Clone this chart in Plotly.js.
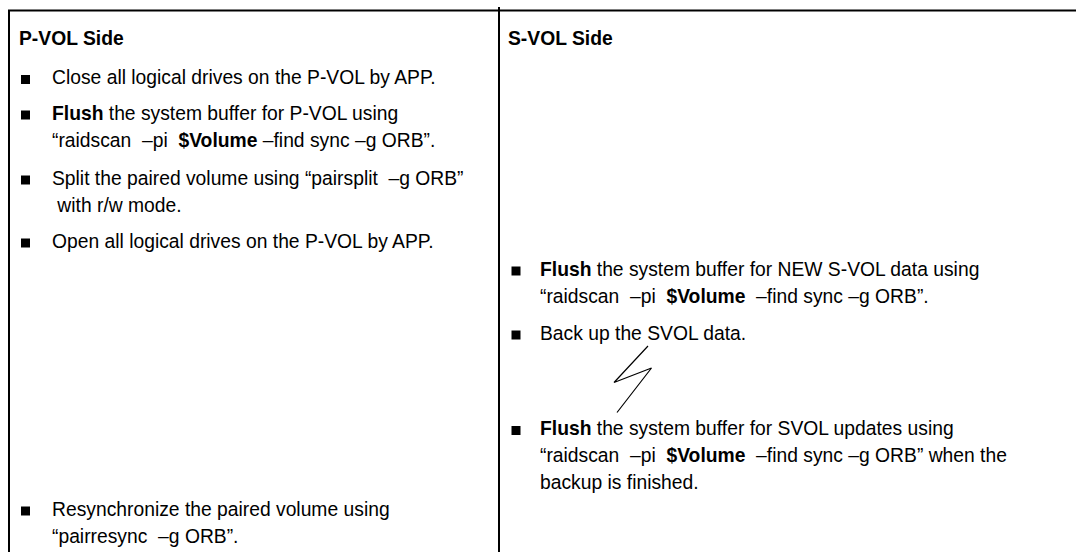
<!DOCTYPE html>
<html>
<head>
<meta charset="utf-8">
<script src="https://cdn.plot.ly/plotly-3.0.1.min.js"></script>
<style>html,body{margin:0;padding:0;background:#fff;}</style>
</head>
<body>
<div id="chart" style="width:1076px;height:552px;"></div>
<script>
// ---- content ----
var NB = '\u00a0';
var columnTitles = ['P-VOL Side', 'S-VOL Side'];

var pvolItems = [
  ['Close all logical drives on the P-VOL by APP.'],
  ['<b>Flush</b> the system buffer for P-VOL using',
   '\u201craidscan' + NB + NB + '\u2013pi' + NB + NB + '<b>$Volume</b> \u2013find sync \u2013g ORB\u201d.'],
  ['Split the paired volume using \u201cpairsplit' + NB + NB + '\u2013g ORB\u201d',
   NB + 'with r/w mode.'],
  ['Open all logical drives on the P-VOL by APP.'],
  ['Resynchronize the paired volume using',
   '\u201cpairresync' + NB + NB + '\u2013g ORB\u201d.']
];
var pvolRows = [77.5, 113, 178, 241, 509];

var svolItems = [
  ['<b>Flush</b> the system buffer for NEW S-VOL data using',
   '\u201craidscan' + NB + NB + '\u2013pi' + NB + NB + '<b>$Volume</b>' + NB + NB + '\u2013find sync \u2013g ORB\u201d.'],
  ['Back up the SVOL data.'],
  ['<b>Flush</b> the system buffer for SVOL updates using',
   '\u201craidscan' + NB + NB + '\u2013pi' + NB + NB + '<b>$Volume</b>' + NB + NB + '\u2013find sync \u2013g ORB\u201d when the',
   'backup is finished.']
];
var svolRows = [269, 333, 428.5];

// lightning (break) symbol
var boltX = [648, 614, 651.5, 617];
var boltY = [346, 382.5, 368, 412.5];

// ---- layout constants ----
var W = 1076, H = 552;
var FONT = 'Liberation Sans, Arial, sans-serif';
var FS = 19.3;
var LINE = 27;
var colTextX = [50, 538];
var colBulletX = [25.5, 516];
var colTitleX = [17, 506];
var titleY = 38.7;

var annotations = [];
var bulletsX = [], bulletsY = [];

function addColumn(items, rows, col) {
  items.forEach(function (lines, i) {
    bulletsX.push(colBulletX[col]);
    bulletsY.push(rows[i] + 2);
    lines.forEach(function (ln, j) {
      annotations.push({
        x: colTextX[col], y: rows[i] + j * LINE, xref: 'x', yref: 'y',
        text: ln, showarrow: false, xanchor: 'left', yanchor: 'middle',
        font: {family: FONT, size: FS, color: '#000'}
      });
    });
  });
}
addColumn(pvolItems, pvolRows, 0);
addColumn(svolItems, svolRows, 1);

columnTitles.forEach(function (t, c) {
  annotations.push({
    x: colTitleX[c], y: titleY, xref: 'x', yref: 'y',
    text: '<b>' + t + '</b>', showarrow: false, xanchor: 'left', yanchor: 'middle',
    font: {family: FONT, size: FS, color: '#000'}
  });
});

var traces = [
  {
    type: 'scatter', mode: 'markers', x: bulletsX, y: bulletsY,
    marker: {symbol: 'square', size: 9, color: '#000'},
    hoverinfo: 'skip', showlegend: false
  },
  {
    type: 'scatter', mode: 'lines', x: boltX, y: boltY,
    line: {color: '#000', width: 1.2},
    hoverinfo: 'skip', showlegend: false
  }
];

var shapes = [
  {type: 'line', xref: 'x', yref: 'y', x0: 8, x1: W, y0: 10.5, y1: 10.5, line: {color: '#000', width: 2}},
  {type: 'line', xref: 'x', yref: 'y', x0: 9, x1: 9, y0: 10, y1: H, line: {color: '#000', width: 2}},
  {type: 'line', xref: 'x', yref: 'y', x0: 499, x1: 499, y0: 7, y1: H, line: {color: '#000', width: 2}}
];

var layout = {
  width: W, height: H,
  margin: {l: 0, r: 0, t: 0, b: 0, pad: 0},
  paper_bgcolor: '#fff', plot_bgcolor: '#fff',
  xaxis: {range: [0, W], visible: false, fixedrange: true},
  yaxis: {range: [H, 0], visible: false, fixedrange: true},
  showlegend: false,
  annotations: annotations,
  shapes: shapes
};

Plotly.newPlot('chart', traces, layout, {displayModeBar: false, staticPlot: true});
</script>
</body>
</html>
